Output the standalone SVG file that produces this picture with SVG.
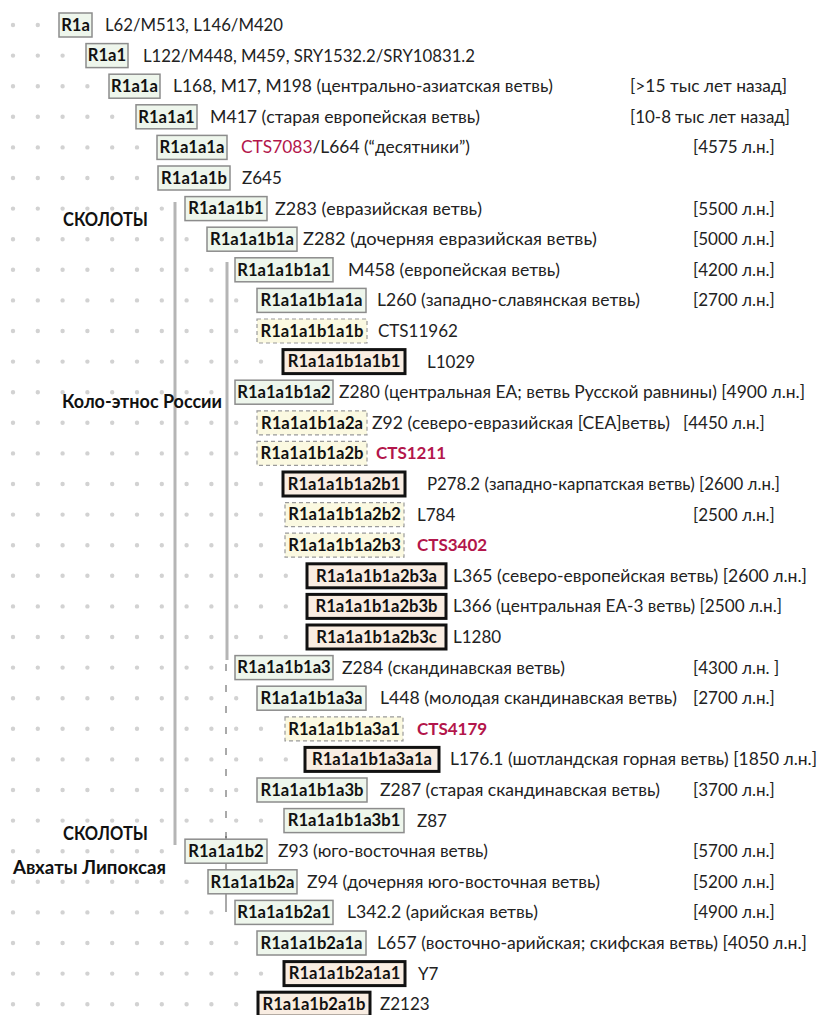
<svg xmlns="http://www.w3.org/2000/svg" width="819" height="1015" viewBox="0 0 819 1015">
<style>
text{font-family:Lato,"Liberation Sans","Noto Sans",sans-serif;fill:#222}
.t{font-size:17px}
.lb{font-size:16.6px;font-weight:bold;fill:#111;text-anchor:middle}
.big{font-size:18px;font-weight:bold;fill:#111}
.r{fill:#b3164b}
.rb{fill:#b3164b;font-weight:bold}
.g{fill:#eef6ec;stroke:#8c8c8c;stroke-width:1.5}
.y{fill:#fbf9e1;stroke:#9a9a9a;stroke-width:1.2;stroke-dasharray:4 3}
.k{fill:#f9ede2;stroke:#111;stroke-width:3}
.dots line{stroke:#d2d2d2;stroke-width:4.4;stroke-linecap:round;stroke-dasharray:0 24.8}
</style>
<rect width="819" height="1015" fill="#fff"/>
<g class="dots">
<line x1="13" y1="25" x2="37.9" y2="25"/>
<line x1="13" y1="55.6" x2="62.7" y2="55.6"/>
<line x1="13" y1="86.2" x2="87.5" y2="86.2"/>
<line x1="13" y1="116.8" x2="112.3" y2="116.8"/>
<line x1="13" y1="147.4" x2="137.1" y2="147.4"/>
<line x1="13" y1="178" x2="137.1" y2="178"/>
<line x1="13" y1="208.6" x2="161.9" y2="208.6"/>
<line x1="13" y1="239.2" x2="186.7" y2="239.2"/>
<line x1="13" y1="269.8" x2="211.5" y2="269.8"/>
<line x1="13" y1="300.4" x2="236.3" y2="300.4"/>
<line x1="13" y1="331" x2="236.3" y2="331"/>
<line x1="13" y1="361.6" x2="261.1" y2="361.6"/>
<line x1="13" y1="392.2" x2="211.5" y2="392.2"/>
<line x1="13" y1="422.8" x2="236.3" y2="422.8"/>
<line x1="13" y1="453.4" x2="236.3" y2="453.4"/>
<line x1="13" y1="484" x2="261.1" y2="484"/>
<line x1="13" y1="514.6" x2="261.1" y2="514.6"/>
<line x1="13" y1="545.2" x2="261.1" y2="545.2"/>
<line x1="13" y1="575.8" x2="285.9" y2="575.8"/>
<line x1="13" y1="606.4" x2="285.9" y2="606.4"/>
<line x1="13" y1="637" x2="285.9" y2="637"/>
<line x1="13" y1="667.6" x2="211.5" y2="667.6"/>
<line x1="13" y1="698.2" x2="236.3" y2="698.2"/>
<line x1="13" y1="728.8" x2="261.1" y2="728.8"/>
<line x1="13" y1="759.4" x2="285.9" y2="759.4"/>
<line x1="13" y1="790" x2="236.3" y2="790"/>
<line x1="13" y1="820.6" x2="261.1" y2="820.6"/>
<line x1="13" y1="851.2" x2="161.9" y2="851.2"/>
<line x1="13" y1="881.8" x2="186.7" y2="881.8"/>
<line x1="13" y1="912.4" x2="211.5" y2="912.4"/>
<line x1="13" y1="943" x2="236.3" y2="943"/>
<line x1="13" y1="973.6" x2="261.1" y2="973.6"/>
<line x1="13" y1="1004.2" x2="236.3" y2="1004.2"/>
</g>
<g id="connectors">
<line x1="175" y1="202" x2="175" y2="845" stroke="#b5b5b5" stroke-width="3"/>
<line x1="227" y1="262" x2="227" y2="660" stroke="#b5b5b5" stroke-width="3"/>
<line x1="226" y1="664" x2="226" y2="838" stroke="#555" stroke-width="1" stroke-dasharray="7 14"/>
<line x1="226" y1="836" x2="226" y2="912" stroke="#555" stroke-width="1"/>
</g>
<g id="labels">
<text class="big" x="63" y="226" textLength="85" lengthAdjust="spacingAndGlyphs">СКОЛОТЫ</text>
<text class="big" x="62" y="408" textLength="160" lengthAdjust="spacingAndGlyphs">Коло-этнос России</text>
<text class="big" x="63" y="840" textLength="85" lengthAdjust="spacingAndGlyphs">СКОЛОТЫ</text>
<text class="big" x="13" y="874" textLength="153" lengthAdjust="spacingAndGlyphs">Авхаты Липоксая</text>
</g>
<g id="n-R1a"><rect class="g" x="59" y="13" width="33" height="24"/><text class="lb" x="75.5" y="30.8">R1a</text><text class="t" x="105" y="31" textLength="178" lengthAdjust="spacingAndGlyphs">L62/M513, L146/M420</text></g>
<g id="n-R1a1"><rect class="g" x="86" y="43.6" width="42" height="24"/><text class="lb" x="107" y="61.4">R1a1</text><text class="t" x="143" y="61.6" textLength="332" lengthAdjust="spacingAndGlyphs">L122/M448, M459, SRY1532.2/SRY10831.2</text></g>
<g id="n-R1a1a"><rect class="g" x="109" y="74.2" width="51" height="24"/><text class="lb" x="134.5" y="92">R1a1a</text><text class="t" x="173" y="92.2" textLength="380" lengthAdjust="spacingAndGlyphs">L168, M17, M198 (центрально-азиатская ветвь)</text><text class="t" x="630" y="92.2" textLength="157" lengthAdjust="spacingAndGlyphs">[&gt;15 тыс лет назад]</text></g>
<g id="n-R1a1a1"><rect class="g" x="136" y="104.8" width="61" height="24"/><text class="lb" x="166.5" y="122.6">R1a1a1</text><text class="t" x="210" y="122.8" textLength="270" lengthAdjust="spacingAndGlyphs">M417 (старая европейская ветвь)</text><text class="t" x="630" y="122.8" textLength="160" lengthAdjust="spacingAndGlyphs">[10-8 тыс лет назад]</text></g>
<g id="n-R1a1a1a"><rect class="g" x="157" y="135.4" width="70" height="24"/><text class="lb" x="192" y="153.2">R1a1a1a</text><text class="t" x="241" y="153.4" textLength="229" lengthAdjust="spacingAndGlyphs"><tspan class="r">CTS7083</tspan>/L664 (“десятники”)</text><text class="t" x="693" y="153.4">[4575 л.н.]</text></g>
<g id="n-R1a1a1b"><rect class="g" x="158" y="166" width="72" height="24"/><text class="lb" x="194" y="183.8">R1a1a1b</text><text class="t" x="242" y="184">Z645</text></g>
<g id="n-R1a1a1b1"><rect class="g" x="185" y="196.6" width="82" height="24"/><text class="lb" x="226" y="214.4">R1a1a1b1</text><text class="t" x="275" y="214.6" textLength="207" lengthAdjust="spacingAndGlyphs">Z283 (евразийская ветвь)</text><text class="t" x="693" y="214.6">[5500 л.н.]</text></g>
<g id="n-R1a1a1b1a"><rect class="g" x="207" y="227.2" width="90" height="24"/><text class="lb" x="252" y="245">R1a1a1b1a</text><text class="t" x="303" y="245.2" textLength="294" lengthAdjust="spacingAndGlyphs">Z282 (дочерняя евразийская ветвь)</text><text class="t" x="693" y="245.2">[5000 л.н.]</text></g>
<g id="n-R1a1a1b1a1"><rect class="g" x="235" y="257.8" width="98" height="24"/><text class="lb" x="284" y="275.6">R1a1a1b1a1</text><text class="t" x="348" y="275.8" textLength="212" lengthAdjust="spacingAndGlyphs">M458 (европейская ветвь)</text><text class="t" x="693" y="275.8">[4200 л.н.]</text></g>
<g id="n-R1a1a1b1a1a"><rect class="g" x="257" y="288.4" width="109" height="24"/><text class="lb" x="311.5" y="306.2">R1a1a1b1a1a</text><text class="t" x="377" y="306.4" textLength="263" lengthAdjust="spacingAndGlyphs">L260 (западно-славянская ветвь)</text><text class="t" x="693" y="306.4">[2700 л.н.]</text></g>
<g id="n-R1a1a1b1a1b"><rect class="y" x="257" y="319" width="110" height="24"/><text class="lb" x="312" y="336.8">R1a1a1b1a1b</text><text class="t" x="378" y="337">CTS11962</text></g>
<g id="n-R1a1a1b1a1b1"><rect class="k" x="283" y="349.6" width="122" height="24"/><text class="lb" x="344" y="367.4">R1a1a1b1a1b1</text><text class="t" x="427" y="367.6">L1029</text></g>
<g id="n-R1a1a1b1a2"><rect class="g" x="235" y="380.2" width="98" height="24"/><text class="lb" x="284" y="398">R1a1a1b1a2</text><text class="t" x="339" y="398.2" textLength="466" lengthAdjust="spacingAndGlyphs">Z280 (центральная ЕА; ветвь Русской равнины) [4900 л.н.]</text></g>
<g id="n-R1a1a1b1a2a"><rect class="y" x="257" y="410.8" width="110" height="24"/><text class="lb" x="312" y="428.6">R1a1a1b1a2a</text><text class="t" x="372" y="428.8" textLength="298" lengthAdjust="spacingAndGlyphs">Z92 (северо-евразийская [СЕА]ветвь)</text><text class="t" x="683" y="428.8">[4450 л.н.]</text></g>
<g id="n-R1a1a1b1a2b"><rect class="y" x="257" y="441.4" width="110" height="24"/><text class="lb" x="312" y="459.2">R1a1a1b1a2b</text><text class="t rb" x="376" y="459.4">CTS1211</text></g>
<g id="n-R1a1a1b1a2b1"><rect class="k" x="283" y="472" width="122" height="24"/><text class="lb" x="344" y="489.8">R1a1a1b1a2b1</text><text class="t" x="427" y="490" textLength="353" lengthAdjust="spacingAndGlyphs">P278.2 (западно-карпатская ветвь) [2600 л.н.]</text></g>
<g id="n-R1a1a1b1a2b2"><rect class="y" x="285" y="502.6" width="119" height="24"/><text class="lb" x="344.5" y="520.4">R1a1a1b1a2b2</text><text class="t" x="417" y="520.6">L784</text><text class="t" x="693" y="520.6">[2500 л.н.]</text></g>
<g id="n-R1a1a1b1a2b3"><rect class="y" x="285" y="533.2" width="119" height="24"/><text class="lb" x="344.5" y="551">R1a1a1b1a2b3</text><text class="t rb" x="417" y="551.2">CTS3402</text></g>
<g id="n-R1a1a1b1a2b3a"><rect class="k" x="307" y="563.8" width="139" height="24"/><text class="lb" x="376.5" y="581.6">R1a1a1b1a2b3a</text><text class="t" x="453" y="581.8" textLength="354" lengthAdjust="spacingAndGlyphs">L365 (северо-европейская ветвь) [2600 л.н.]</text></g>
<g id="n-R1a1a1b1a2b3b"><rect class="k" x="307" y="594.4" width="139" height="24"/><text class="lb" x="376.5" y="612.2">R1a1a1b1a2b3b</text><text class="t" x="453" y="612.4" textLength="329" lengthAdjust="spacingAndGlyphs">L366 (центральная ЕА-3 ветвь) [2500 л.н.]</text></g>
<g id="n-R1a1a1b1a2b3c"><rect class="k" x="307" y="625" width="139" height="24"/><text class="lb" x="376.5" y="642.8">R1a1a1b1a2b3c</text><text class="t" x="453" y="643">L1280</text></g>
<g id="n-R1a1a1b1a3"><rect class="g" x="235" y="655.6" width="98" height="24"/><text class="lb" x="284" y="673.4">R1a1a1b1a3</text><text class="t" x="342" y="673.6" textLength="223" lengthAdjust="spacingAndGlyphs">Z284 (скандинавская ветвь)</text><text class="t" x="693" y="673.6">[4300 л.н. ]</text></g>
<g id="n-R1a1a1b1a3a"><rect class="g" x="257" y="686.2" width="109" height="24"/><text class="lb" x="311.5" y="704">R1a1a1b1a3a</text><text class="t" x="380" y="704.2" textLength="297" lengthAdjust="spacingAndGlyphs">L448 (молодая скандинавская ветвь)</text><text class="t" x="693" y="704.2">[2700 л.н.]</text></g>
<g id="n-R1a1a1b1a3a1"><rect class="y" x="285" y="716.8" width="118" height="24"/><text class="lb" x="344" y="734.6">R1a1a1b1a3a1</text><text class="t rb" x="417" y="734.8">CTS4179</text></g>
<g id="n-R1a1a1b1a3a1a"><rect class="k" x="305" y="747.4" width="134" height="24"/><text class="lb" x="372" y="765.2">R1a1a1b1a3a1a</text><text class="t" x="450" y="765.4" textLength="367" lengthAdjust="spacingAndGlyphs">L176.1 (шотландская горная ветвь) [1850 л.н.]</text></g>
<g id="n-R1a1a1b1a3b"><rect class="g" x="257" y="778" width="110" height="24"/><text class="lb" x="312" y="795.8">R1a1a1b1a3b</text><text class="t" x="380" y="796" textLength="280" lengthAdjust="spacingAndGlyphs">Z287 (старая скандинавская ветвь)</text><text class="t" x="693" y="796">[3700 л.н.]</text></g>
<g id="n-R1a1a1b1a3b1"><rect class="g" x="284" y="808.6" width="120" height="24"/><text class="lb" x="344" y="826.4">R1a1a1b1a3b1</text><text class="t" x="417" y="826.6">Z87</text></g>
<g id="n-R1a1a1b2"><rect class="g" x="185" y="839.2" width="82" height="24"/><text class="lb" x="226" y="857">R1a1a1b2</text><text class="t" x="278" y="857.2" textLength="210" lengthAdjust="spacingAndGlyphs">Z93 (юго-восточная ветвь)</text><text class="t" x="693" y="857.2">[5700 л.н.]</text></g>
<g id="n-R1a1a1b2a"><rect class="g" x="208" y="869.8" width="89" height="24"/><text class="lb" x="252.5" y="887.6">R1a1a1b2a</text><text class="t" x="307" y="887.8" textLength="293" lengthAdjust="spacingAndGlyphs">Z94 (дочерняя юго-восточная ветвь)</text><text class="t" x="693" y="887.8">[5200 л.н.]</text></g>
<g id="n-R1a1a1b2a1"><rect class="g" x="235" y="900.4" width="98" height="24"/><text class="lb" x="284" y="918.2">R1a1a1b2a1</text><text class="t" x="347" y="918.4" textLength="191" lengthAdjust="spacingAndGlyphs">L342.2 (арийская ветвь)</text><text class="t" x="693" y="918.4">[4900 л.н.]</text></g>
<g id="n-R1a1a1b2a1a"><rect class="g" x="257" y="931" width="109" height="24"/><text class="lb" x="311.5" y="948.8">R1a1a1b2a1a</text><text class="t" x="377" y="949" textLength="430" lengthAdjust="spacingAndGlyphs">L657 (восточно-арийская; скифская ветвь) [4050 л.н.]</text></g>
<g id="n-R1a1a1b2a1a1"><rect class="k" x="284" y="961.6" width="121" height="24"/><text class="lb" x="344.5" y="979.4">R1a1a1b2a1a1</text><text class="t" x="418" y="979.6">Y7</text></g>
<g id="n-R1a1a1b2a1b"><rect class="k" x="258" y="992.2" width="112" height="24"/><text class="lb" x="314" y="1010">R1a1a1b2a1b</text><text class="t" x="380" y="1010.2">Z2123</text></g>
</svg>
